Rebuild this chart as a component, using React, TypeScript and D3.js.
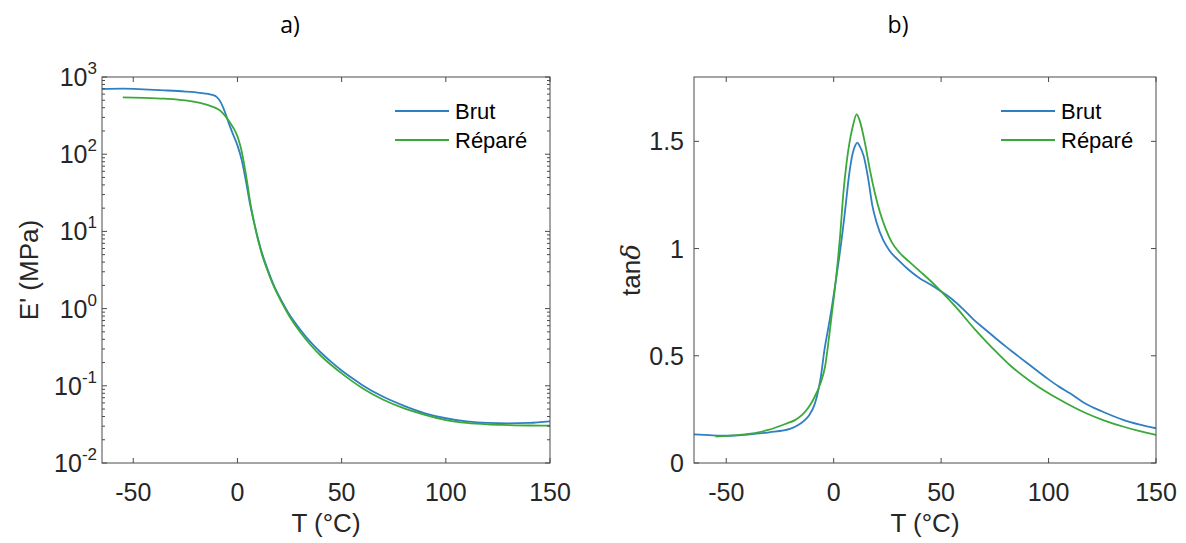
import React from 'react';
import * as d3 from 'd3';

const W = 1186;
const H = 543;

// Storage modulus E' (MPa) vs T (°C)
const brutModulus: [number, number][] = [
  [-65, 700], [-55, 706], [-45, 692], [-35, 672], [-25, 648], [-18, 624], [-14, 604],
  [-12, 586], [-10, 552], [-8, 470], [-6, 352], [-4, 245], [-2, 178], [0, 130], [2, 85],
  [4, 46], [6, 23], [8, 13], [10, 7.8], [12, 5.0], [14, 3.5], [16, 2.5], [18, 1.86],
  [20, 1.45], [22, 1.15], [25, 0.83], [30, 0.54], [35, 0.37], [40, 0.27], [45, 0.204],
  [50, 0.158], [55, 0.126], [60, 0.102], [70, 0.072], [80, 0.055], [90, 0.044],
  [100, 0.038], [110, 0.0347], [120, 0.0331], [130, 0.0327], [140, 0.0331], [150, 0.0347],
];
const repareModulus: [number, number][] = [
  [-55, 546], [-45, 538], [-35, 524], [-25, 498], [-18, 462], [-14, 432], [-10, 392],
  [-8, 362], [-6, 316], [-4, 268], [-2, 220], [0, 170], [1, 140], [2, 110], [3, 80],
  [4, 56], [5, 38], [6, 25], [8, 13], [10, 7.5], [12, 4.8], [14, 3.35], [16, 2.4],
  [18, 1.8], [20, 1.4], [22, 1.1], [25, 0.79], [30, 0.5], [35, 0.34], [40, 0.245],
  [45, 0.186], [50, 0.145], [55, 0.115], [60, 0.093], [70, 0.066], [80, 0.051],
  [90, 0.042], [100, 0.036], [110, 0.033], [120, 0.0316], [130, 0.031], [140, 0.0306],
  [150, 0.0305],
];

// tan delta vs T (°C)
const brutTan: [number, number][] = [
  [-65, 0.134], [-58, 0.13], [-50, 0.127], [-40, 0.133], [-30, 0.143], [-20, 0.16],
  [-16.5, 0.177], [-14, 0.195], [-11.3, 0.224], [-9, 0.27], [-7.8, 0.31], [-6, 0.4],
  [-4.3, 0.527], [-2.5, 0.63], [-0.8, 0.73], [1, 0.85], [3, 0.99], [5, 1.15], [6, 1.24],
  [7, 1.33], [8, 1.4], [9, 1.45], [10, 1.48], [11, 1.494], [12, 1.48], [14, 1.43],
  [16, 1.33], [18, 1.2], [20, 1.12], [23, 1.04], [26, 0.99], [30, 0.947], [35, 0.9],
  [40, 0.862], [45, 0.832], [50, 0.8], [55, 0.765], [60, 0.72], [65, 0.67], [70, 0.627],
  [75, 0.585], [80, 0.544], [85, 0.505], [90, 0.466], [95, 0.428], [100, 0.39], [105, 0.355],
  [110, 0.325], [117.5, 0.275], [125, 0.24], [135, 0.2], [142, 0.18], [150, 0.162],
];
const repareTan: [number, number][] = [
  [-55, 0.123], [-45, 0.13], [-35, 0.143], [-30.4, 0.154], [-21.7, 0.185], [-18, 0.2],
  [-14.7, 0.224], [-12, 0.255], [-9.6, 0.294], [-6.1, 0.373], [-4, 0.45], [-2, 0.6],
  [-0.8, 0.7], [0.3, 0.79], [2, 0.95], [3, 1.06], [4.5, 1.258], [6, 1.4], [7.3, 1.49],
  [8.9, 1.57], [10.7, 1.626], [12, 1.6], [14.6, 1.49], [17, 1.36], [19.2, 1.258],
  [21.5, 1.17], [23.9, 1.1], [27, 1.03], [30.9, 0.978], [35, 0.94], [40, 0.895],
  [45, 0.85], [50, 0.8], [56.6, 0.73], [65.3, 0.628], [74, 0.535], [82.7, 0.45],
  [91, 0.385], [100, 0.325], [108, 0.28], [117.5, 0.232], [126, 0.198], [135, 0.169],
  [142, 0.15], [150, 0.131],
];

const xTicks = [-50, 0, 50, 100, 150];
const logTickExps = [-2, -1, 0, 1, 2, 3];
const tanTicks = [0, 0.5, 1, 1.5];
const tanTickLabels = ['0', '0.5', '1', '1.5'];
const seriesNames = ['Brut', 'Réparé'];
const seriesColors = ['#2f7fc3', '#3aa93a'];

const FONT = 'Liberation Sans, Arial, sans-serif';
const AX = '#262626';
const BOX = '#4a4a4a';

type Box = { x0: number; x1: number; y0: number; y1: number };
const leftBox: Box = { x0: 102, x1: 550, y0: 77, y1: 463 };
const rightBox: Box = { x0: 694, x1: 1156, y0: 77, y1: 463 };

function Legend({ x, y }: { x: number; y: number }) {
  return (
    <g>
      {seriesNames.map((n, i) => (
        <g key={n}>
          <line x1={x} x2={x + 54} y1={y + i * 29} y2={y + i * 29} stroke={seriesColors[i]} strokeWidth={2} />
          <text x={x + 60} y={y + i * 29 + 8} fontSize={22} fontFamily={FONT} fill="#000">{n}</text>
        </g>
      ))}
    </g>
  );
}

function XAxis({ b, x }: { b: Box; x: d3.ScaleLinear<number, number> }) {
  return (
    <g>
      {xTicks.map((t) => (
        <g key={t}>
          <line x1={x(t)} x2={x(t)} y1={b.y1} y2={b.y1 - 5} stroke={BOX} />
          <line x1={x(t)} x2={x(t)} y1={b.y0} y2={b.y0 + 5} stroke={BOX} />
          <text x={x(t)} y={b.y1 + 38} textAnchor="middle" fontSize={25} fontFamily={FONT} fill={AX}>{t}</text>
        </g>
      ))}
      <text x={(b.x0 + b.x1) / 2} y={b.y1 + 69} textAnchor="middle" fontSize={26} fontFamily={FONT} fill={AX}>T (°C)</text>
    </g>
  );
}

export default function App() {
  const xL = d3.scaleLinear().domain([-65, 150]).range([leftBox.x0, leftBox.x1]);
  const yL = d3.scaleLog().domain([0.01, 1000]).range([leftBox.y1, leftBox.y0]);
  const xR = d3.scaleLinear().domain([-65, 150]).range([rightBox.x0, rightBox.x1]);
  const yR = d3.scaleLinear().domain([0, 1.8]).range([rightBox.y1, rightBox.y0]);

  const lineL = d3.line<[number, number]>().x((d) => xL(d[0])).y((d) => yL(d[1])).curve(d3.curveMonotoneX);
  const lineR = d3.line<[number, number]>().x((d) => xR(d[0])).y((d) => yR(d[1])).curve(d3.curveMonotoneX);

  const minor: number[] = [];
  for (let e = -2; e < 3; e++) for (let m = 2; m <= 9; m++) minor.push(m * Math.pow(10, e));

  return (
    <svg width={W} height={H} style={{ display: 'block', position: 'absolute', left: 0, top: 0, background: '#fff' }}>
      <rect x={0} y={0} width={W} height={H} fill="#fff" />
      <defs>
        <clipPath id="cl"><rect x={leftBox.x0} y={leftBox.y0} width={leftBox.x1 - leftBox.x0} height={leftBox.y1 - leftBox.y0} /></clipPath>
        <clipPath id="cr"><rect x={rightBox.x0} y={rightBox.y0} width={rightBox.x1 - rightBox.x0} height={rightBox.y1 - rightBox.y0} /></clipPath>
      </defs>

      {/* Titles */}
      <text x={290} y={33} textAnchor="middle" fontSize={23} fontFamily="Open Sans, sans-serif" fill="#000">a)</text>
      <text x={898} y={33} textAnchor="middle" fontSize={23} fontFamily="Open Sans, sans-serif" fill="#000">b)</text>

      {/* Left panel */}
      <g clipPath="url(#cl)">
        <path d={lineL(brutModulus) || ''} fill="none" stroke={seriesColors[0]} strokeWidth={1.8} />
        <path d={lineL(repareModulus) || ''} fill="none" stroke={seriesColors[1]} strokeWidth={1.8} />
      </g>
      <rect x={leftBox.x0} y={leftBox.y0} width={leftBox.x1 - leftBox.x0} height={leftBox.y1 - leftBox.y0} fill="none" stroke={BOX} strokeWidth={1} />
      <XAxis b={leftBox} x={xL} />
      {logTickExps.map((e) => {
        const y = yL(Math.pow(10, e));
        return (
          <g key={e}>
            <line x1={leftBox.x0} x2={leftBox.x0 + 5} y1={y} y2={y} stroke={BOX} />
            <line x1={leftBox.x1} x2={leftBox.x1 - 5} y1={y} y2={y} stroke={BOX} />
            <text x={leftBox.x0 - 5} y={y + 9} textAnchor="end" fontFamily={FONT} fill={AX} fontSize={25}>
              <tspan>10</tspan>
              <tspan dy={-12} fontSize={17}>{e}</tspan>
            </text>
          </g>
        );
      })}
      {minor.map((v) => (
        <g key={v}>
          <line x1={leftBox.x0} x2={leftBox.x0 + 3} y1={yL(v)} y2={yL(v)} stroke={BOX} />
          <line x1={leftBox.x1} x2={leftBox.x1 - 3} y1={yL(v)} y2={yL(v)} stroke={BOX} />
        </g>
      ))}
      <text transform={`translate(38,${(leftBox.y0 + leftBox.y1) / 2}) rotate(-90)`} textAnchor="middle" fontSize={26} fontFamily={FONT} fill={AX}>E' (MPa)</text>
      <Legend x={395} y={111} />

      {/* Right panel */}
      <g clipPath="url(#cr)">
        <path d={lineR(brutTan) || ''} fill="none" stroke={seriesColors[0]} strokeWidth={1.8} />
        <path d={lineR(repareTan) || ''} fill="none" stroke={seriesColors[1]} strokeWidth={1.8} />
      </g>
      <rect x={rightBox.x0} y={rightBox.y0} width={rightBox.x1 - rightBox.x0} height={rightBox.y1 - rightBox.y0} fill="none" stroke={BOX} strokeWidth={1} />
      <XAxis b={rightBox} x={xR} />
      {tanTicks.map((t, i) => (
        <g key={t}>
          <line x1={rightBox.x0} x2={rightBox.x0 + 5} y1={yR(t)} y2={yR(t)} stroke={BOX} />
          <line x1={rightBox.x1} x2={rightBox.x1 - 5} y1={yR(t)} y2={yR(t)} stroke={BOX} />
          <text x={rightBox.x0 - 10} y={yR(t) + 9} textAnchor="end" fontSize={25} fontFamily={FONT} fill={AX}>{tanTickLabels[i]}</text>
        </g>
      ))}
      <text transform={`translate(640,${(rightBox.y0 + rightBox.y1) / 2}) rotate(-90)`} textAnchor="middle" fontSize={26} fontFamily={FONT} fill={AX}>
        <tspan>tan</tspan><tspan fontStyle="italic" fontFamily="DejaVu Serif, serif">δ</tspan>
      </text>
      <Legend x={1001} y={111} />
    </svg>
  );
}
